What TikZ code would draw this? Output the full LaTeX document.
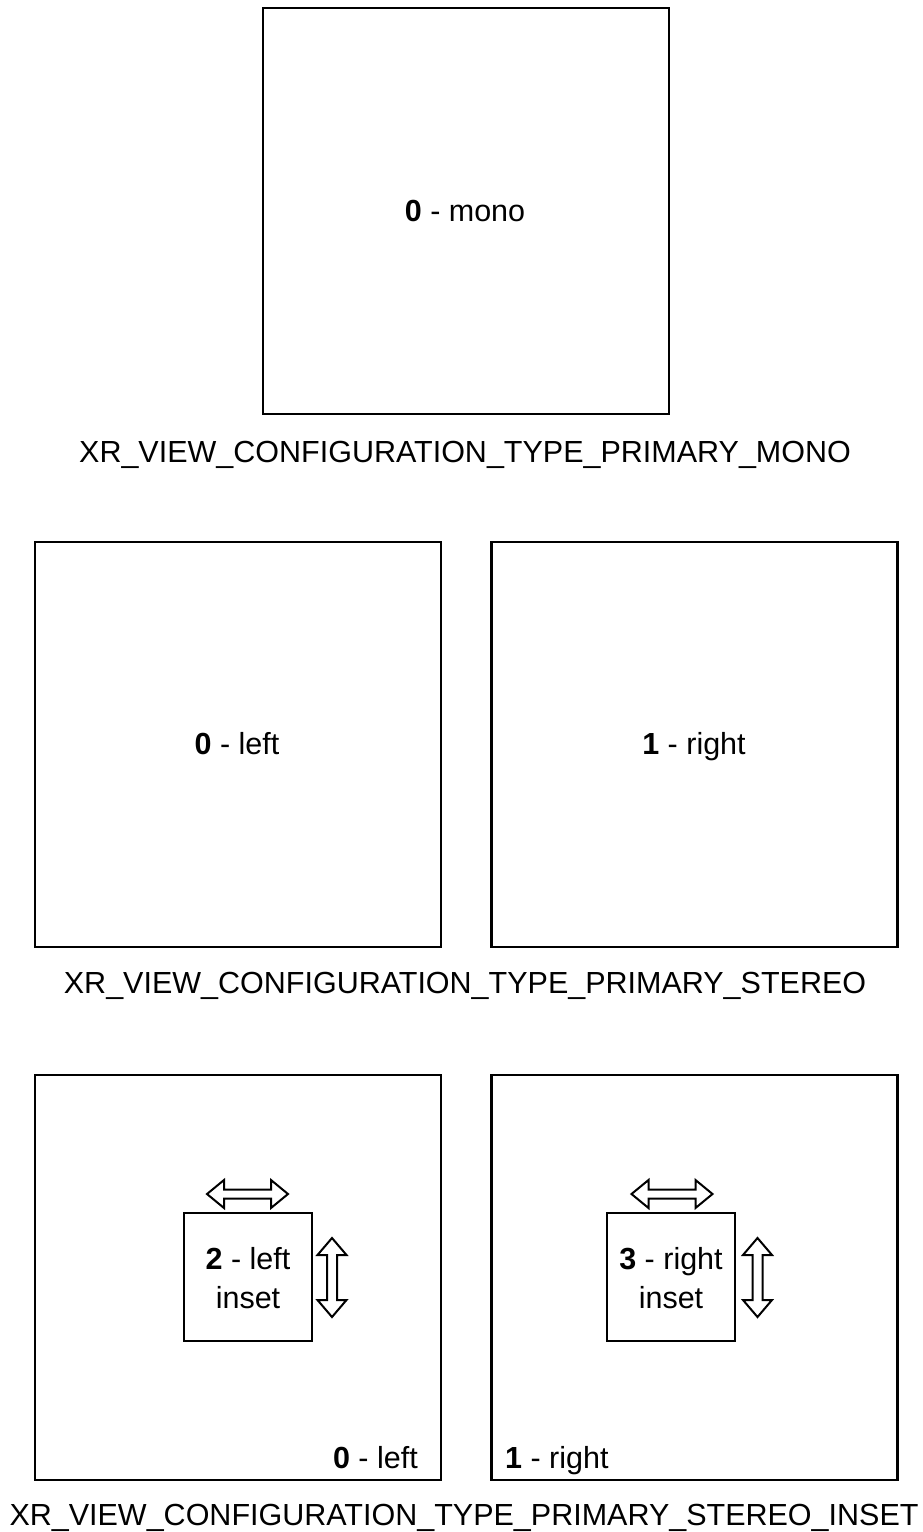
\documentclass[tikz,border=0pt]{standalone}
\usepackage{fontspec}
\setmainfont{Liberation Sans}
\begin{document}
\begin{tikzpicture}[x=1pt,y=-1pt,
  box/.style={draw=black,line width=2.6pt,fill=white,inner sep=0pt,minimum width=406pt,minimum height=406pt},
  insetbox/.style={draw=black,line width=2.4pt,fill=white,inner sep=0pt,minimum width=128pt,minimum height=128pt},
  txt/.style={inner sep=0pt,font=\fontsize{30.5}{38}\selectfont},
  arr/.style={draw=black,line width=2pt,fill=white,line join=miter},
  harr/.pic={\path[arr] (-40.5,0) -- (-23.5,-14) -- (-23.5,-4.5) -- (23.5,-4.5) -- (23.5,-14) -- (40.5,0) -- (23.5,14) -- (23.5,4.5) -- (-23.5,4.5) -- (-23.5,14) -- cycle;},
  varr/.pic={\path[arr] (0,-39.5) -- (-14.5,-22.5) -- (-5,-22.5) -- (-5,22.5) -- (-14.5,22.5) -- (0,39.5) -- (14.5,22.5) -- (5,22.5) -- (5,-22.5) -- (14.5,-22.5) -- cycle;}
]
\useasboundingbox (0,0) rectangle (922,1532);
% top
\node[box] (mono) at (466,211) {};
\node[txt,anchor=base] (monolbl) at (465,221) {\textbf{0} - mono};
\node[txt,anchor=base] (monocap) at (465,462) {XR\_VIEW\_CONFIGURATION\_TYPE\_PRIMARY\_MONO};
% middle
\node[box,minimum height=405pt] (sl) at (238,744.5) {};
\node[box,minimum height=405pt] (sr) at (694.5,744.5) {};
\node[txt,anchor=base] (sllbl) at (237,754) {\textbf{0} - left};
\node[txt,anchor=base] (srlbl) at (694,754) {\textbf{1} - right};
\node[txt,anchor=base] (stcap) at (465,993) {XR\_VIEW\_CONFIGURATION\_TYPE\_PRIMARY\_STEREO};
% bottom
\node[box,minimum height=405pt] (il) at (238,1277.5) {};
\node[box,minimum height=405pt] (ir) at (694.5,1277.5) {};
\node[txt,anchor=base east] (illbl) at (418,1468) {\textbf{0} - left};
\node[txt,anchor=base west] (irlbl) at (505,1468) {\textbf{1} - right};
\node[insetbox] (insl) at (248,1277) {};
\node[insetbox] (insr) at (671,1277) {};
\node[txt,anchor=base] (insl1) at (248,1269) {\textbf{2} - left};
\node[txt,anchor=base] (insl2) at (248,1308) {inset};
\node[txt,anchor=base] (insr1) at (671,1269) {\textbf{3} - right};
\node[txt,anchor=base] (insr2) at (671,1308) {inset};
\pic at (247.5,1194) {harr};
\pic at (672,1194) {harr};
\pic at (332,1277.5) {varr};
\pic at (757.5,1277.5) {varr};
\node[txt,anchor=base] (incap) at (464,1525) {XR\_VIEW\_CONFIGURATION\_TYPE\_PRIMARY\_STEREO\_INSET};
\end{tikzpicture}
\end{document}
